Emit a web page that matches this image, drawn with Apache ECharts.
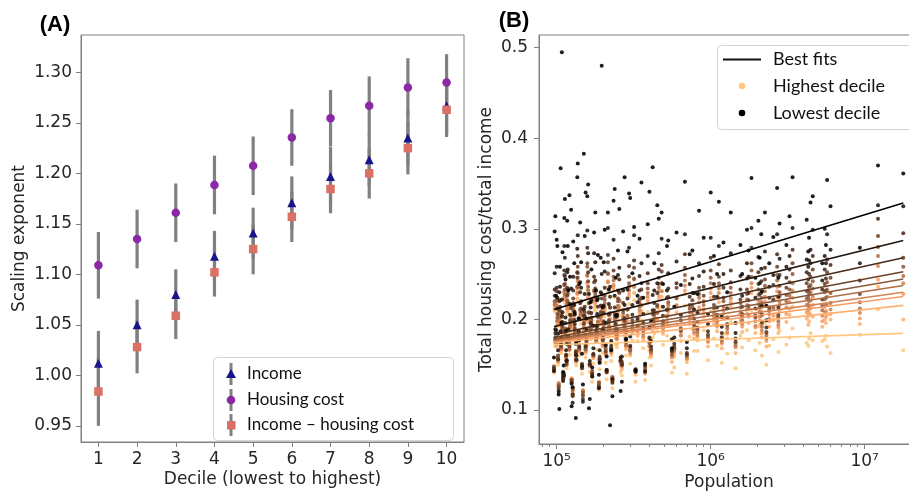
<!DOCTYPE html>
<html><head><meta charset="utf-8">
<script src="https://cdn.jsdelivr.net/npm/echarts@6/dist/echarts.min.js"></script>
<style>html,body{margin:0;padding:0;background:#fff}#c{width:909px;height:491px}</style>
</head><body><div id="c"></div>
<script>
// ---------- Panel A data ----------
const deciles = [1, 2, 3, 4, 5, 6, 7, 8, 9, 10];
const yTicksA = [0.95, 1.00, 1.05, 1.10, 1.15, 1.20, 1.25, 1.30];
const legendA = ['Income', 'Housing cost', 'Income \u2013 housing cost'];
const incomeExp = [1.012, 1.050, 1.080, 1.118, 1.141, 1.171, 1.197, 1.2135, 1.235, 1.267];
const incomeErr = [0.032, 0.025, 0.025, 0.025, 0.025, 0.026, 0.029, 0.026, 0.027, 0.028];
const housingExp = [1.109, 1.135, 1.161, 1.1885, 1.2075, 1.2355, 1.2545, 1.267, 1.285, 1.290];
const housingErr = [0.033, 0.029, 0.029, 0.029, 0.029, 0.028, 0.028, 0.029, 0.029, 0.028];
const diffExp = [0.984, 1.028, 1.059, 1.102, 1.125, 1.157, 1.1845, 1.200, 1.225, 1.263];
const diffErr = [0.034, 0.026, 0.023, 0.024, 0.025, 0.025, 0.024, 0.025, 0.026, 0.027];

// ---------- Panel B data ----------
const xTickPowers = [5, 6, 7];
const minorMultipliers = [2, 3, 4, 5, 6, 7, 8, 9];
const yTicksB = [0.1, 0.2, 0.3, 0.4, 0.5];
const legendB = ['Best fits', 'Highest decile', 'Lowest decile'];
const population = [17800000, 12200000, 9300000, 6000000, 5700000, 5600000, 5500000, 5300000, 4600000, 4450000,
 4350000, 4300000, 4200000, 3400000, 3250000, 3100000, 2800000, 2750000, 2700000, 2550000,
 2400000, 2250000, 2150000, 2130000, 2080000, 2040000, 1950000, 1840000, 1760000, 1720000,
 1600000, 1560000, 1350000, 1280000, 1210000, 1130000, 1100000, 1050000, 1000000, 960000,
 900000, 840000, 780000, 730000, 680000, 640000, 600000, 560000, 520000, 480000,
 450000, 420000, 400000, 375000, 355000, 335000, 318000, 300000, 288000, 276000,
 265000, 255000, 246000, 238000, 230000, 222000, 215000, 208000, 202000, 196000,
 190000, 185000, 180000, 175000, 170000, 166000, 162000, 158000, 154000, 150000,
 146000, 142000, 139000, 136000, 133000, 130000, 127000, 124000, 121000, 118000,
 116000, 114000, 112000, 110000, 108000, 106000, 104000, 102000, 100000, 98000, 96000,
 430000, 410000, 390000, 365000, 345000, 325000, 310000, 295000, 282000, 270000,
 260000, 250000, 242000, 234000, 226000, 218000, 211000, 205000, 199000, 193000,
 188000, 183000, 178000, 173000, 168000, 164000, 160000, 156000, 152000, 148000,
 144000, 140000, 137000, 134000, 131000, 128000, 125000, 122000, 119000, 117000,
 115000, 113000, 111000, 109000, 107000, 105000, 103000, 101000, 99000, 97000,
 580000, 530000, 490000, 460000, 700000, 760000, 820000, 1180000, 1450000, 2300000];
// housing cost / income, lowest decile (1) .. highest decile (10)
const decile1 = [0.361,0.370,0.279,0.325,0.354,0.282,0.300,0.262,0.336,0.329,
 0.290,0.275,0.310,0.357,0.314,0.282,0.306,0.246,0.345,0.291,
 0.262,0.318,0.231,0.294,0.268,0.309,0.246,0.356,0.276,0.299,
 0.250,0.282,0.318,0.230,0.285,0.330,0.250,0.270,0.340,0.206,
 0.290,0.320,0.229,0.272,0.352,0.238,0.296,0.168,0.281,0.318,
 0.326,0.368,0.341,0.151,0.351,0.226,0.302,0.334,0.275,0.357,
 0.131,0.322,0.205,0.344,0.115,0.083,0.318,0.196,0.263,0.480,
 0.152,0.271,0.232,0.296,0.147,0.219,0.102,0.336,0.340,0.383,
 0.162,0.307,0.201,0.357,0.091,0.262,0.125,0.321,0.337,0.281,
 0.173,0.244,0.312,0.142,0.495,0.367,0.101,0.184,0.288,0.314,0.158,
 0.262,0.198,0.305,0.224,0.289,0.143,0.251,0.339,0.178,0.297,
 0.121,0.276,0.246,0.331,0.166,0.233,0.159,0.299,0.213,0.268,
 0.139,0.221,0.318,0.193,0.255,0.112,0.349,0.201,0.292,0.128,
 0.263,0.239,0.372,0.175,0.207,0.286,0.104,0.247,0.232,0.309,
 0.187,0.333,0.149,0.274,0.196,0.258,0.117,0.281,0.226,0.297,
 0.214,0.287,0.239,0.311,0.175,0.276,0.228,0.203,0.196,0.215];
const decile2 = [0.325,0.326,0.262,0.277,0.294,0.262,0.270,0.243,0.299,0.277,
 0.265,0.258,0.266,0.301,0.270,0.258,0.267,0.225,0.294,0.249,
 0.236,0.275,0.215,0.256,0.240,0.269,0.224,0.301,0.247,0.262,
 0.226,0.248,0.273,0.212,0.250,0.281,0.225,0.239,0.290,0.195,
 0.253,0.262,0.211,0.239,0.294,0.205,0.264,0.178,0.232,0.289,
 0.240,0.227,0.191,0.143,0.262,0.219,0.293,0.181,0.233,0.216,
 0.159,0.257,0.203,0.226,0.134,0.236,0.301,0.172,0.215,0.250,
 0.166,0.223,0.193,0.273,0.137,0.213,0.228,0.298,0.182,0.211,
 0.148,0.241,0.201,0.278,0.173,0.216,0.108,0.234,0.179,0.255,
 0.154,0.202,0.281,0.132,0.222,0.187,0.230,0.166,0.258,0.189,0.143,
 0.232,0.176,0.270,0.206,0.248,0.145,0.216,0.279,0.186,0.232,
 0.158,0.249,0.204,0.288,0.176,0.217,0.144,0.253,0.189,0.230,
 0.124,0.206,0.263,0.168,0.221,0.154,0.273,0.189,0.228,0.109,
 0.235,0.177,0.293,0.160,0.205,0.247,0.129,0.217,0.189,0.252,
 0.166,0.268,0.138,0.208,0.180,0.236,0.120,0.224,0.188,0.251,
 0.180,0.251,0.214,0.273,0.168,0.245,0.207,0.192,0.185,0.199];
const decile3 = [0.295,0.311,0.243,0.260,0.266,0.245,0.255,0.233,0.270,0.262,
 0.250,0.244,0.252,0.277,0.255,0.246,0.249,0.213,0.272,0.238,
 0.224,0.257,0.205,0.242,0.228,0.252,0.212,0.279,0.229,0.245,
 0.214,0.233,0.254,0.202,0.235,0.261,0.213,0.225,0.268,0.187,
 0.236,0.248,0.201,0.225,0.272,0.199,0.240,0.165,0.224,0.260,
 0.229,0.210,0.180,0.149,0.240,0.201,0.265,0.170,0.223,0.201,
 0.150,0.244,0.189,0.213,0.130,0.225,0.271,0.171,0.207,0.228,
 0.156,0.214,0.188,0.247,0.140,0.196,0.218,0.279,0.170,0.204,
 0.150,0.230,0.187,0.252,0.163,0.209,0.117,0.215,0.177,0.233,
 0.155,0.196,0.254,0.136,0.204,0.174,0.220,0.156,0.235,0.185,0.146,
 0.218,0.170,0.251,0.196,0.232,0.144,0.205,0.259,0.179,0.218,
 0.155,0.232,0.195,0.267,0.171,0.205,0.142,0.235,0.181,0.215,
 0.125,0.193,0.243,0.162,0.207,0.150,0.252,0.180,0.214,0.112,
 0.220,0.171,0.270,0.156,0.195,0.232,0.130,0.205,0.181,0.235,
 0.161,0.248,0.137,0.197,0.173,0.221,0.122,0.212,0.180,0.233,
 0.173,0.234,0.204,0.255,0.163,0.229,0.197,0.185,0.179,0.191];
const decile4 = [0.268,0.292,0.228,0.246,0.252,0.232,0.239,0.222,0.255,0.247,
 0.236,0.232,0.240,0.262,0.241,0.235,0.237,0.205,0.258,0.222,
 0.213,0.244,0.197,0.229,0.216,0.239,0.204,0.262,0.221,0.233,
 0.206,0.222,0.241,0.195,0.224,0.247,0.205,0.216,0.254,0.183,
 0.226,0.235,0.195,0.216,0.257,0.190,0.235,0.166,0.211,0.253,
 0.216,0.206,0.179,0.142,0.233,0.199,0.257,0.171,0.211,0.198,
 0.153,0.230,0.188,0.206,0.135,0.213,0.263,0.165,0.197,0.223,
 0.159,0.203,0.181,0.241,0.137,0.195,0.208,0.262,0.172,0.195,
 0.146,0.218,0.187,0.246,0.165,0.199,0.115,0.212,0.170,0.228,
 0.151,0.188,0.249,0.134,0.203,0.176,0.210,0.160,0.231,0.178,0.143,
 0.210,0.167,0.240,0.190,0.222,0.142,0.199,0.247,0.175,0.210,
 0.154,0.223,0.189,0.254,0.168,0.199,0.142,0.226,0.178,0.208,
 0.127,0.190,0.234,0.161,0.202,0.150,0.242,0.177,0.208,0.116,
 0.212,0.169,0.258,0.155,0.190,0.223,0.132,0.199,0.178,0.226,
 0.160,0.239,0.139,0.193,0.171,0.214,0.125,0.206,0.177,0.226,
 0.170,0.225,0.198,0.246,0.161,0.221,0.191,0.180,0.175,0.186];
const decile5 = [0.258,0.280,0.219,0.229,0.241,0.224,0.230,0.215,0.242,0.238,
 0.228,0.224,0.231,0.250,0.233,0.227,0.230,0.202,0.249,0.221,
 0.210,0.237,0.196,0.224,0.213,0.233,0.202,0.254,0.215,0.228,
 0.203,0.218,0.235,0.193,0.220,0.240,0.202,0.212,0.246,0.181,
 0.220,0.228,0.193,0.212,0.249,0.187,0.224,0.161,0.210,0.240,
 0.214,0.199,0.174,0.147,0.224,0.193,0.245,0.166,0.211,0.192,
 0.150,0.229,0.182,0.203,0.133,0.213,0.251,0.168,0.198,0.215,
 0.155,0.203,0.182,0.232,0.143,0.189,0.207,0.258,0.167,0.196,
 0.151,0.218,0.181,0.236,0.161,0.200,0.122,0.204,0.173,0.219,
 0.155,0.190,0.238,0.140,0.196,0.171,0.210,0.156,0.221,0.180,0.148,
 0.206,0.166,0.234,0.188,0.218,0.144,0.196,0.240,0.175,0.207,
 0.155,0.220,0.188,0.247,0.168,0.197,0.144,0.222,0.177,0.205,
 0.130,0.185,0.228,0.161,0.199,0.151,0.236,0.176,0.204,0.119,
 0.209,0.168,0.251,0.155,0.188,0.218,0.133,0.196,0.176,0.221,
 0.160,0.233,0.140,0.190,0.170,0.210,0.127,0.202,0.175,0.220,
 0.168,0.219,0.195,0.239,0.161,0.216,0.189,0.180,0.175,0.185];
const decile6 = [0.248,0.270,0.212,0.218,0.233,0.216,0.222,0.210,0.234,0.230,
 0.220,0.216,0.223,0.240,0.226,0.220,0.225,0.198,0.243,0.213,
 0.206,0.231,0.192,0.219,0.208,0.227,0.198,0.247,0.212,0.222,
 0.199,0.213,0.229,0.190,0.214,0.234,0.198,0.207,0.240,0.179,
 0.216,0.224,0.190,0.208,0.243,0.188,0.223,0.163,0.203,0.240,
 0.207,0.199,0.175,0.143,0.223,0.193,0.244,0.168,0.204,0.193,
 0.152,0.221,0.183,0.200,0.136,0.207,0.250,0.163,0.192,0.215,
 0.157,0.197,0.177,0.231,0.139,0.190,0.201,0.249,0.169,0.190,
 0.146,0.210,0.183,0.235,0.164,0.193,0.118,0.205,0.167,0.219,
 0.150,0.183,0.238,0.135,0.197,0.173,0.202,0.158,0.222,0.175,0.144,
 0.203,0.164,0.229,0.185,0.214,0.143,0.192,0.236,0.172,0.203,
 0.153,0.215,0.186,0.243,0.166,0.194,0.144,0.218,0.175,0.202,
 0.130,0.186,0.225,0.160,0.196,0.150,0.232,0.174,0.201,0.120,
 0.206,0.167,0.246,0.155,0.186,0.215,0.133,0.193,0.174,0.217,
 0.159,0.228,0.140,0.188,0.168,0.207,0.128,0.199,0.174,0.217,
 0.167,0.216,0.193,0.235,0.159,0.213,0.186,0.177,0.172,0.182];
const decile7 = [0.240,0.259,0.207,0.211,0.225,0.209,0.214,0.204,0.225,0.221,
 0.214,0.211,0.216,0.232,0.219,0.213,0.219,0.194,0.236,0.212,
 0.201,0.225,0.188,0.214,0.203,0.221,0.193,0.240,0.205,0.216,
 0.195,0.208,0.223,0.186,0.210,0.229,0.194,0.203,0.234,0.176,
 0.211,0.219,0.186,0.203,0.237,0.182,0.215,0.158,0.204,0.231,
 0.207,0.193,0.170,0.146,0.216,0.187,0.236,0.163,0.204,0.187,
 0.148,0.220,0.178,0.197,0.132,0.206,0.241,0.164,0.193,0.209,
 0.153,0.198,0.178,0.224,0.142,0.185,0.201,0.248,0.165,0.191,
 0.149,0.211,0.178,0.229,0.160,0.196,0.124,0.199,0.171,0.212,
 0.154,0.186,0.230,0.140,0.191,0.168,0.204,0.154,0.215,0.178,0.148,
 0.199,0.162,0.225,0.182,0.210,0.142,0.190,0.232,0.171,0.201,
 0.153,0.212,0.183,0.238,0.164,0.191,0.143,0.214,0.172,0.199,
 0.130,0.181,0.221,0.159,0.194,0.150,0.228,0.173,0.199,0.121,
 0.204,0.166,0.242,0.155,0.185,0.212,0.134,0.192,0.174,0.215,
 0.159,0.225,0.140,0.186,0.168,0.205,0.129,0.198,0.173,0.215,
 0.165,0.212,0.190,0.231,0.157,0.208,0.183,0.175,0.170,0.179];
const decile8 = [0.228,0.244,0.201,0.206,0.216,0.203,0.208,0.198,0.216,0.212,
 0.207,0.204,0.208,0.224,0.212,0.206,0.215,0.191,0.231,0.204,
 0.198,0.220,0.185,0.209,0.199,0.217,0.191,0.235,0.203,0.212,
 0.192,0.205,0.219,0.184,0.206,0.224,0.192,0.200,0.229,0.175,
 0.207,0.213,0.184,0.200,0.232,0.183,0.216,0.160,0.197,0.231,
 0.201,0.193,0.171,0.141,0.215,0.188,0.236,0.165,0.198,0.188,
 0.151,0.214,0.179,0.195,0.137,0.201,0.242,0.161,0.188,0.210,
 0.157,0.193,0.175,0.224,0.139,0.186,0.197,0.240,0.167,0.186,
 0.146,0.205,0.180,0.228,0.162,0.189,0.121,0.201,0.166,0.214,
 0.150,0.181,0.231,0.137,0.193,0.171,0.198,0.158,0.217,0.173,0.144,
 0.197,0.162,0.221,0.180,0.207,0.142,0.188,0.228,0.170,0.198,
 0.152,0.209,0.182,0.235,0.164,0.190,0.143,0.212,0.172,0.197,
 0.131,0.183,0.218,0.159,0.192,0.150,0.225,0.172,0.197,0.122,
 0.201,0.165,0.237,0.154,0.182,0.209,0.135,0.190,0.173,0.212,
 0.158,0.222,0.141,0.185,0.167,0.202,0.130,0.196,0.172,0.212,
 0.163,0.209,0.187,0.226,0.156,0.206,0.181,0.173,0.169,0.176];
const decile9 = [0.200,0.236,0.195,0.200,0.205,0.196,0.200,0.192,0.203,0.205,
 0.198,0.194,0.201,0.214,0.205,0.197,0.209,0.185,0.224,0.199,
 0.192,0.215,0.180,0.204,0.194,0.211,0.185,0.229,0.196,0.207,
 0.186,0.199,0.214,0.179,0.201,0.219,0.187,0.195,0.224,0.170,
 0.203,0.209,0.179,0.195,0.228,0.176,0.208,0.153,0.196,0.225,
 0.199,0.187,0.165,0.140,0.209,0.182,0.229,0.160,0.198,0.182,
 0.145,0.212,0.173,0.192,0.131,0.200,0.235,0.162,0.189,0.204,
 0.152,0.194,0.176,0.219,0.140,0.181,0.198,0.241,0.163,0.188,
 0.148,0.207,0.175,0.223,0.157,0.192,0.124,0.196,0.169,0.209,
 0.153,0.184,0.226,0.140,0.188,0.166,0.201,0.153,0.212,0.176,0.147,
 0.194,0.159,0.218,0.177,0.204,0.139,0.185,0.225,0.167,0.195,
 0.149,0.206,0.179,0.232,0.161,0.188,0.141,0.210,0.170,0.195,
 0.129,0.179,0.216,0.157,0.190,0.148,0.223,0.170,0.196,0.121,
 0.200,0.164,0.236,0.153,0.181,0.208,0.134,0.189,0.172,0.211,
 0.157,0.221,0.140,0.184,0.166,0.201,0.129,0.195,0.171,0.211,
 0.159,0.205,0.184,0.223,0.153,0.202,0.177,0.168,0.163,0.170];
const decile10 = [0.166,0.211,0.183,0.163,0.170,0.182,0.178,0.176,0.177,0.185,
 0.179,0.171,0.174,0.190,0.180,0.172,0.188,0.164,0.203,0.178,
 0.171,0.196,0.160,0.184,0.174,0.192,0.166,0.210,0.177,0.188,
 0.169,0.182,0.197,0.162,0.184,0.203,0.171,0.179,0.209,0.155,
 0.188,0.196,0.165,0.181,0.215,0.163,0.195,0.141,0.182,0.214,
 0.187,0.180,0.158,0.133,0.199,0.176,0.221,0.151,0.188,0.178,
 0.138,0.204,0.169,0.185,0.124,0.192,0.229,0.152,0.179,0.197,
 0.145,0.184,0.167,0.213,0.131,0.178,0.189,0.233,0.158,0.180,
 0.140,0.200,0.174,0.219,0.153,0.184,0.116,0.192,0.161,0.205,
 0.146,0.177,0.223,0.133,0.185,0.163,0.194,0.150,0.210,0.170,0.141,
 0.184,0.149,0.208,0.168,0.195,0.131,0.177,0.217,0.160,0.188,
 0.142,0.199,0.172,0.225,0.154,0.181,0.134,0.203,0.163,0.188,
 0.122,0.175,0.210,0.151,0.184,0.142,0.217,0.164,0.191,0.116,
 0.195,0.160,0.232,0.149,0.177,0.204,0.130,0.185,0.168,0.207,
 0.154,0.218,0.137,0.181,0.163,0.198,0.126,0.192,0.170,0.209,
 0.147,0.193,0.172,0.211,0.140,0.189,0.165,0.152,0.146,0.150];
// best-fit line values at smallest and largest population, decile 1..10
const fitStartPop = 96000;
const fitEndPop = 17800000;
const fitStart = [0.211, 0.192, 0.183, 0.180, 0.178, 0.177, 0.176, 0.175, 0.174, 0.172];
const fitEnd = [0.3285, 0.287, 0.268, 0.2525, 0.2445, 0.2375, 0.2300, 0.2253, 0.2155, 0.1845];

// ---------- build ----------
const decileValues = [decile1, decile2, decile3, decile4, decile5, decile6, decile7, decile8, decile9, decile10];
const FONT = 'DejaVu Sans';
const LFONT = 'Lato';
const TXT = '#262626';
const AX = '#808080';
function copper(v) {
  const r = Math.min(1, 1.25 * v), g = 0.7812 * v, b = 0.4975 * v;
  return 'rgb(' + Math.round(r * 255) + ',' + Math.round(g * 255) + ',' + Math.round(b * 255) + ')';
}
const minorTicks = [];
[4, 5, 6, 7].forEach(p => minorMultipliers.forEach(m => minorTicks.push(Math.log10(m * Math.pow(10, p)))));
const supDigits = {'5': '\u2075', '6': '\u2076', '7': '\u2077'};

function errSeries(vals, errs) {
  return {
    type: 'custom', xAxisIndex: 0, yAxisIndex: 0, silent: true, z: 2,
    data: deciles.map((d, i) => [d, vals[i] - errs[i], vals[i] + errs[i]]),
    encode: {x: 0, y: [1, 2]},
    renderItem: (params, api) => {
      const lo = api.coord([api.value(0), api.value(1)]);
      const hi = api.coord([api.value(0), api.value(2)]);
      return {type: 'line', shape: {x1: lo[0], y1: lo[1], x2: hi[0], y2: hi[1]},
        style: {stroke: '#808080', lineWidth: 3.2}};
    }
  };
}
function markerSeries(name, vals, symbol, size, color) {
  return {type: 'scatter', name, xAxisIndex: 0, yAxisIndex: 0, symbol, symbolSize: size, z: 5,
    itemStyle: {color, opacity: 1}, data: deciles.map((d, i) => [d, vals[i]])};
}

const series = [
  errSeries(incomeExp, incomeErr), errSeries(housingExp, housingErr), errSeries(diffExp, diffErr),
  markerSeries(legendA[0], incomeExp, 'triangle', 9, '#16168a'),
  markerSeries(legendA[1], housingExp, 'circle', 8.5, '#8a28a8'),
  markerSeries(legendA[2], diffExp, 'rect', 8.5, '#dc7064'),
];
for (let d = 9; d >= 0; d--) {
  series.push({type: 'scatter', xAxisIndex: 1, yAxisIndex: 1, symbolSize: 4, z: 2, silent: true,
    itemStyle: {color: copper(d / 9), opacity: 0.88},
    data: population.map((p, i) => [Math.log10(p), decileValues[d][i]])});
}
for (let d = 9; d >= 0; d--) {
  series.push({type: 'line', xAxisIndex: 1, yAxisIndex: 1, symbol: 'none', z: 4, silent: true,
    lineStyle: {color: copper(d / 9), width: 1.6},
    data: [[Math.log10(fitStartPop), fitStart[d]], [Math.log10(fitEndPop), fitEnd[d]]]});
}

const axisBase = {
  axisLine: {show: true, lineStyle: {color: AX, width: 1}},
  splitLine: {show: false},
  nameTextStyle: {fontFamily: FONT, fontSize: 17, color: TXT},
  nameLocation: 'middle', nameMoveOverlap: false,
};

// legends (graphic)
const rowsA = [374, 400, 425];
const gA = [{type: 'rect', z: 50, shape: {x: 213.5, y: 357.5, width: 240, height: 83, r: 4},
  style: {fill: 'rgba(255,255,255,0.85)', stroke: '#d4d4d4', lineWidth: 1}}];
rowsA.forEach((y, i) => {
  gA.push({type: 'line', z: 51, shape: {x1: 231, y1: y - 11, x2: 231, y2: y + 11}, style: {stroke: '#808080', lineWidth: 3}});
  if (i === 0) gA.push({type: 'polygon', z: 52, shape: {points: [[231, y - 5], [226, y + 4], [236, y + 4]]}, style: {fill: '#16168a'}});
  if (i === 1) gA.push({type: 'circle', z: 52, shape: {cx: 231, cy: y, r: 4.3}, style: {fill: '#8a28a8'}});
  if (i === 2) gA.push({type: 'rect', z: 52, shape: {x: 227, y: y - 4, width: 8.5, height: 8.5}, style: {fill: '#dc7064'}});
  gA.push({type: 'text', z: 52, x: 247, y: y, style: {text: legendA[i], fontFamily: LFONT, fontSize: 17, fill: '#111', verticalAlign: 'middle'}});
});
const rowsB = [59.5, 86, 113];
const gB = [{type: 'rect', z: 50, shape: {x: 717.5, y: 45.5, width: 220, height: 84, r: 4},
  style: {fill: 'rgba(255,255,255,0.85)', stroke: '#d4d4d4', lineWidth: 1}},
  {type: 'line', z: 51, shape: {x1: 723, y1: rowsB[0], x2: 761, y2: rowsB[0]}, style: {stroke: '#111', lineWidth: 2}},
  {type: 'circle', z: 51, shape: {cx: 742, cy: rowsB[1], r: 3.3}, style: {fill: copper(1)}},
  {type: 'circle', z: 51, shape: {cx: 742, cy: rowsB[2], r: 3.3}, style: {fill: '#000'}}];
rowsB.forEach((y, i) => gB.push({type: 'text', z: 52, x: 773, y: y, style: {text: legendB[i], fontFamily: LFONT, fontSize: 18, fill: '#111', verticalAlign: 'middle'}}));
const titles = [
  {type: 'text', z: 52, x: 55, y: 25, style: {text: '(A)', fontFamily: 'Liberation Sans', fontWeight: 'bold', fontSize: 22, fill: '#000', align: 'center', verticalAlign: 'middle'}},
  {type: 'text', z: 52, x: 514, y: 21, style: {text: '(B)', fontFamily: 'Liberation Sans', fontWeight: 'bold', fontSize: 22, fill: '#000', align: 'center', verticalAlign: 'middle'}},
];

const option = {
  animation: false,
  backgroundColor: '#fff',
  grid: [
    {left: 81, top: 35, width: 383, height: 407, show: true, borderColor: AX, borderWidth: 1, outerBoundsMode: 'none', containLabel: false},
    {left: 539, top: 35, width: 380, height: 409, show: true, borderColor: AX, borderWidth: 1, outerBoundsMode: 'none', containLabel: false},
  ],
  xAxis: [
    Object.assign({}, axisBase, {gridIndex: 0, type: 'value', min: 0.55, max: 10.45,
      name: 'Decile (lowest to highest)', nameGap: 29,
      axisTick: {show: true, length: 5, inside: false, customValues: deciles, lineStyle: {color: AX}},
      axisLabel: {customValues: deciles, margin: 9, fontFamily: FONT, fontSize: 17, color: TXT}}),
    Object.assign({}, axisBase, {gridIndex: 1, type: 'value', min: 4.885, max: 7.3526,
      name: 'Population', nameGap: 30,
      axisTick: {show: true, length: 5, customValues: xTickPowers, lineStyle: {color: AX}},
      axisLabel: {customValues: xTickPowers, margin: 9, fontFamily: FONT, fontSize: 17, color: TXT,
        formatter: v => '10' + supDigits[String(Math.round(v))]}}),
    {gridIndex: 1, type: 'value', min: 4.885, max: 7.3526, position: 'bottom',
      axisLine: {show: false}, splitLine: {show: false}, axisLabel: {show: false},
      axisTick: {show: true, length: 3, customValues: minorTicks, lineStyle: {color: AX}}},
  ],
  yAxis: [
    Object.assign({}, axisBase, {gridIndex: 0, type: 'value', min: 0.934, max: 1.337,
      name: 'Scaling exponent', nameGap: 53,
      axisTick: {show: true, length: 5, customValues: yTicksA, lineStyle: {color: AX}},
      axisLabel: {customValues: yTicksA, margin: 9, fontFamily: FONT, fontSize: 17, color: TXT, formatter: v => v.toFixed(2)}}),
    Object.assign({}, axisBase, {gridIndex: 1, type: 'value', min: 0.0624, max: 0.514,
      name: 'Total housing cost/total income', nameGap: 44,
      axisTick: {show: true, length: 5, customValues: yTicksB, lineStyle: {color: AX}},
      axisLabel: {customValues: yTicksB, margin: 11, fontFamily: FONT, fontSize: 17, color: TXT, formatter: v => v.toFixed(1)}}),
  ],
  graphic: {elements: gA.concat(gB, titles)},
  series,
};
const chart = echarts.init(document.getElementById('c'), null, {renderer: 'canvas', width: 909, height: 491});
chart.setOption(option);
</script></body></html>
